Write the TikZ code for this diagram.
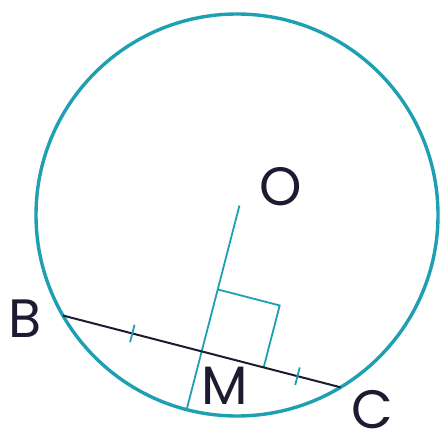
\documentclass[tikz,border=0pt]{standalone}
\usepackage{fontspec}
\setmainfont{Poppins}
\usetikzlibrary{calc}
\definecolor{teal1}{RGB}{30,160,178}
\definecolor{ink}{RGB}{28,28,48}
\begin{document}
\begin{tikzpicture}[x=1pt,y=-1pt,
  circ/.style={draw=teal1,line width=3.4pt},
  thin/.style={draw=teal1,line width=1.8pt},
  chord/.style={draw=ink,line width=2pt},
  lbl/.style={text=ink,font=\fontsize{54}{54}\selectfont,inner sep=0pt}]
\useasboundingbox (0,0) rectangle (441,441);
\coordinate (O) at (237,215);
\coordinate (B) at (62.9,315.5);
\coordinate (C) at (340.5,387.3);
\coordinate (M) at ($(B)!0.5!(C)$);
\coordinate (P) at ($(M)!-0.4266!(O)$);
\coordinate (T) at ($(M)!1.07!(O)$);
\coordinate (Q1) at ($(M)!64pt!(O)$);
\coordinate (Q2) at ($(M)!64pt!(C)$);
\coordinate (Q3) at ($(Q1)+(Q2)-(M)$);
\coordinate (t1) at ($(B)!0.25!(C)$);
\coordinate (t2) at ($(B)!0.845!(C)$);
\draw[circ] (O) circle (201pt);
\draw[thin] (P) -- (T);
\draw[thin] (Q1) -- (Q3) -- (Q2);
\draw[chord] (B) -- (C);
\draw[thin] ($(t1)!9pt!90:(C)$) -- ($(t1)!9pt!-90:(C)$);
\draw[thin] ($(t2)!9pt!90:(C)$) -- ($(t2)!9pt!-90:(C)$);
\node[lbl] (lO) at (281,187) {O};
\node[lbl] (lB) at (25,319) {B};
\node[lbl] (lM) at (225,386) {M};
\node[lbl] (lC) at (372,410) {C};
\end{tikzpicture}
\end{document}
